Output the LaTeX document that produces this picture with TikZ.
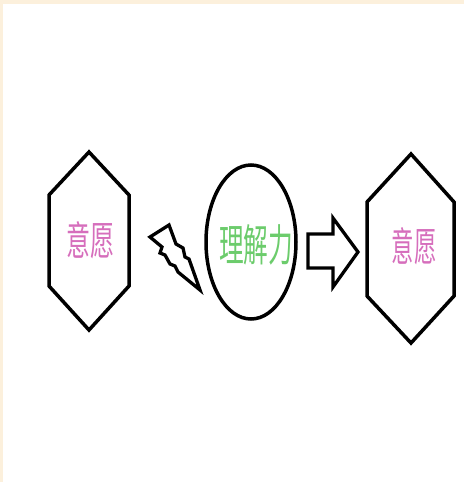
\documentclass[tikz,border=0pt]{standalone}
\usepackage{fontspec}
\newfontfamily\cjk{Noto Sans CJK SC}
\definecolor{beige}{RGB}{252,240,220}
\definecolor{pinktxt}{RGB}{214,110,188}
\definecolor{greentxt}{RGB}{108,204,108}
\begin{document}
\begin{tikzpicture}[x=1pt,y=-1pt,
  shape line/.style={draw=black,line width=3.5pt,line join=miter},
  pinklabel/.style={text=pinktxt,font=\cjk\fontsize{40}{40}\selectfont,inner sep=0pt},
  greenlabel/.style={text=greentxt,font=\cjk\fontsize{44}{44}\selectfont,inner sep=0pt}]
\useasboundingbox (0,0) rectangle (464,482);
\fill[beige] (0,0) rectangle (464,482);
\fill[white] (3,4) rectangle (464,482);
% left hexagon
\draw[shape line] (89,152) -- (129,195) -- (129,286) -- (89,330) -- (49,286) -- (49,195) -- cycle;
\node[pinklabel] (w1) at (90,240) {\scalebox{0.6}[1]{意愿}};
% right hexagon
\draw[shape line] (411,154) -- (454,202) -- (454,296) -- (411,343) -- (367,296) -- (367,202) -- cycle;
\node[pinklabel] (w2) at (414,246) {\scalebox{0.56}[1]{意愿}};
% ellipse
\draw[shape line] (251,242) ellipse [x radius=45, y radius=77];
\node[greenlabel] (u) at (256,245) {\scalebox{0.56}[1]{理解力}};
% lightning bolt
\draw[shape line, line width=3.3pt] (150,237) -- (169,225) -- (176,244) -- (183,248) -- (185,257) -- (189,259) -- (200,290) -- (178,272) -- (175,266) -- (170,264) -- (165,255) -- (160,253) -- (162,247) -- cycle;
% block arrow
\draw[shape line, line width=3.3pt] (308,234) -- (333,234) -- (333,218) -- (358,252) -- (333,287) -- (333,268) -- (308,268) -- cycle;
\end{tikzpicture}
\end{document}
